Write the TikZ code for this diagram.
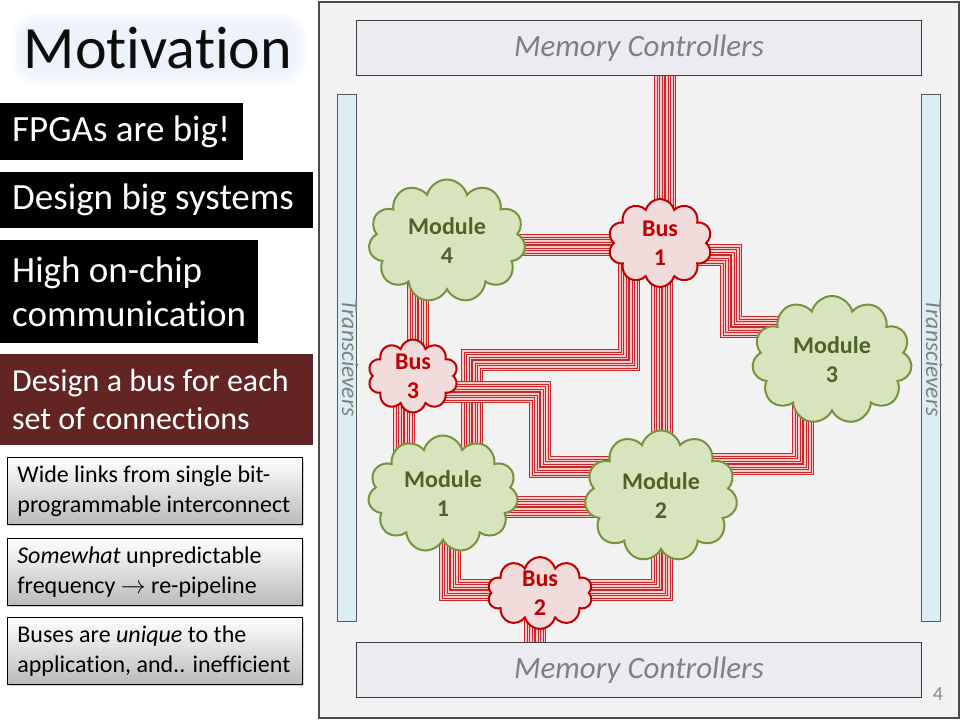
\documentclass[tikz,border=0pt]{standalone}
\usepackage{fontspec}
\setmainfont{Carlito}[Ligatures=NoCommon]
\usetikzlibrary{shapes.symbols,shadows,calc}

\definecolor{wirered}{HTML}{C82828}
\definecolor{wirepink}{HTML}{F4CACA}
\definecolor{modfill}{HTML}{D7E4BD}
\definecolor{moddraw}{HTML}{77933C}
\definecolor{modtext}{HTML}{4F6228}
\definecolor{busfill}{HTML}{F2DCDB}
\definecolor{busred}{HTML}{C00000}
\definecolor{panelgray}{HTML}{F2F2F2}
\definecolor{memfill}{HTML}{EDEBF2}
\definecolor{xcvrfill}{HTML}{DAEEF3}
\definecolor{labelgray}{HTML}{808080}
\definecolor{boxred}{HTML}{632523}
\definecolor{glowblue}{HTML}{C6D9F1}

\pgfdeclarelayer{back}
\pgfdeclarelayer{wires}
\pgfsetlayers{back,wires,main}

% one bundle of parallel wires along a path
\newcommand{\wirebundle}[1]{%
  \foreach \w/\c in {22/wirered,20/wirepink,17/wirered,15/wirepink,12/wirered,10/wirepink,7/wirered,5/wirepink,2/wirered}
    {\draw[line width=\w pt,\c,line join=miter] #1;}}

\tikzset{
  module/.style={cloud, cloud puffs=11, cloud ignores aspect, draw=moddraw, fill=modfill,
    line width=2pt, text=modtext, font=\fontsize{24}{29}\selectfont\bfseries, align=center, inner sep=0pt},
  bus/.style={cloud, cloud puffs=10, cloud ignores aspect, draw=busred, fill=busfill,
    line width=2pt, text=busred, font=\fontsize{24}{29}\selectfont\bfseries, align=center, inner sep=0pt},
  blackbox/.style={anchor=north west, fill=black, text=white, font=\fontsize{37}{44}\selectfont,
    inner xsep=0pt, inner ysep=2pt, align=flush left,
    execute at begin node={\setlength{\leftskip}{12pt}}},
  notebox/.style={anchor=north west, draw=black, line width=0.8pt, top color=white, bottom color=black!27,
    drop shadow={shadow xshift=2pt, shadow yshift=-2pt, opacity=0.35},
    font=\fontsize{24}{30}\selectfont, inner xsep=0pt, inner ysep=2pt, text width=295pt,
    minimum height=67pt, align=flush left,
    execute at begin node={\setlength{\leftskip}{10pt}}},
  memctrl/.style={draw=black!75, line width=1.5pt, fill=memfill, text=labelgray,
    font=\fontsize{31}{37}\selectfont\itshape, minimum width=565pt, minimum height=55pt},
  xcvr/.style={draw=black!65, line width=1pt, fill=xcvrfill, rotate=-90, minimum width=527pt,
    minimum height=19pt, inner ysep=0pt, text height=12pt, text depth=2pt, text=labelgray,
    font=\fontsize{23.5}{28}\selectfont\itshape}
}

\begin{document}
\begin{tikzpicture}[x=1pt,y=-1pt]
  \useasboundingbox (0,0) rectangle (960,720);

  % left column
  \begin{pgfonlayer}{back}
    \foreach \g in {12,8,4}
      \fill[glowblue, opacity=0.12, rounded corners=24pt] (24-\g,26-\g) rectangle (294+\g,72+\g);
    \node (chip) [anchor=north west, draw=black!70, line width=1.5pt, fill=panelgray,
      minimum width=640pt, minimum height=716pt] at (318,1) {};
  \end{pgfonlayer}
  \node (title) at (158,48) {\fontsize{60}{60}\selectfont\color{black!95}Motivation};

  \node (big) [blackbox, text width=243pt, minimum height=57pt] at (0,103) {FPGAs are big!};
  \node (systems) [blackbox, text width=313pt, minimum height=56pt] at (0,172) {Design big systems};
  \node (comm) [blackbox, text width=258pt, minimum height=103pt] at (0,240) {High on-chip\\communication};
  \node (perbus) [blackbox, fill=boxred, text width=313pt, minimum height=91pt,
    font=\fontsize{32}{38}\selectfont] at (0,354) {Design a bus for each\\set of connections};

  \node (wide) [notebox] at (7,457) {Wide links from single bit-\\programmable interconnect};
  \node (freq) [notebox] at (7,538) {\textit{Somewhat} unpredictable\\frequency $\rightarrow$ re-pipeline};
  \node (unique) [notebox] at (7,617) {Buses are \textit{unique} to the\\application, and.. inefficient};

  % chip
  \node (mct) [memctrl] at (639,48) {Memory Controllers};
  \node (mcb) [memctrl] at (639,670) {Memory Controllers};
  \node (xl) [xcvr] at (347,358) {Transcievers};
  \node (xr) [xcvr] at (931,358) {Transcievers};
  \node (pagenum) [text=black!45, font=\fontsize{20}{20}\selectfont] at (938,694) {4};

  \node (mod4) [module, minimum width=157pt, minimum height=123pt] at (447,241) {Module\\4};
  \node (bus1) [bus, minimum width=104pt, minimum height=88pt] at (660,243) {Bus\\1};
  \node (bus3) [bus, minimum width=90pt, minimum height=73pt] at (413,376) {Bus\\3};
  \node (mod3) [module, minimum width=160pt, minimum height=128pt] at (832,360) {Module\\3};
  \node (mod1) [module, minimum width=150pt, minimum height=117pt] at (443,494) {Module\\1};
  \node (mod2) [module, minimum width=153pt, minimum height=131pt] at (661,496) {Module\\2};
  \node (bus2) [bus, minimum width=105pt, minimum height=70pt] at (540,593) {Bus\\2};

  % wire bundles
  \begin{pgfonlayer}{wires}
    \wirebundle{($(bus1)+(5,0)$) -- ($(bus1 |- mct)+(5,0)$)}
    \wirebundle{($(mod4)+(0,4)$) -- ($(mod4 -| bus1)+(0,4)$)}
    \wirebundle{($(mod4)+(-29,0)$) -- ($(mod4 |- bus3)+(-29,0)$)}
    \wirebundle{($(bus3)+(-9,0)$) -- ($(bus3 |- mod1)+(-9,0)$)}
    \wirebundle{($(bus1)+(0,12)$) -| ($(mod3)+(-101,-33)$) -- ($(mod3)+(0,-33)$)}
    \wirebundle{($(bus1)+(2,0)$) -- ($(bus1 |- mod2)+(2,0)$)}
    \wirebundle{($(bus1)+(-31,0)$) |- ($(mod1)+(29,-134)$) -- ($(mod1)+(29,0)$)}
    \wirebundle{($(bus3)+(0,16)$) -| ($(mod2)+(-121,-29)$) -- ($(mod2)+(0,-29)$)}
    \wirebundle{($(mod1)+(0,13)$) -- ($(mod1 -| mod2)+(0,13)$)}
    \wirebundle{($(mod2)+(0,-32)$) -| ($(mod3)+(-29,0)$)}
    \wirebundle{($(mod1)+(7,0)$) |- ($(bus2)+(0,-3)$)}
    \wirebundle{($(mod2)+(1,0)$) |- ($(bus2)+(0,-3)$)}
    \wirebundle{($(bus2)+(-5,0)$) -- ($(bus2 |- mcb)+(-5,0)$)}
  \end{pgfonlayer}
\end{tikzpicture}
\end{document}
